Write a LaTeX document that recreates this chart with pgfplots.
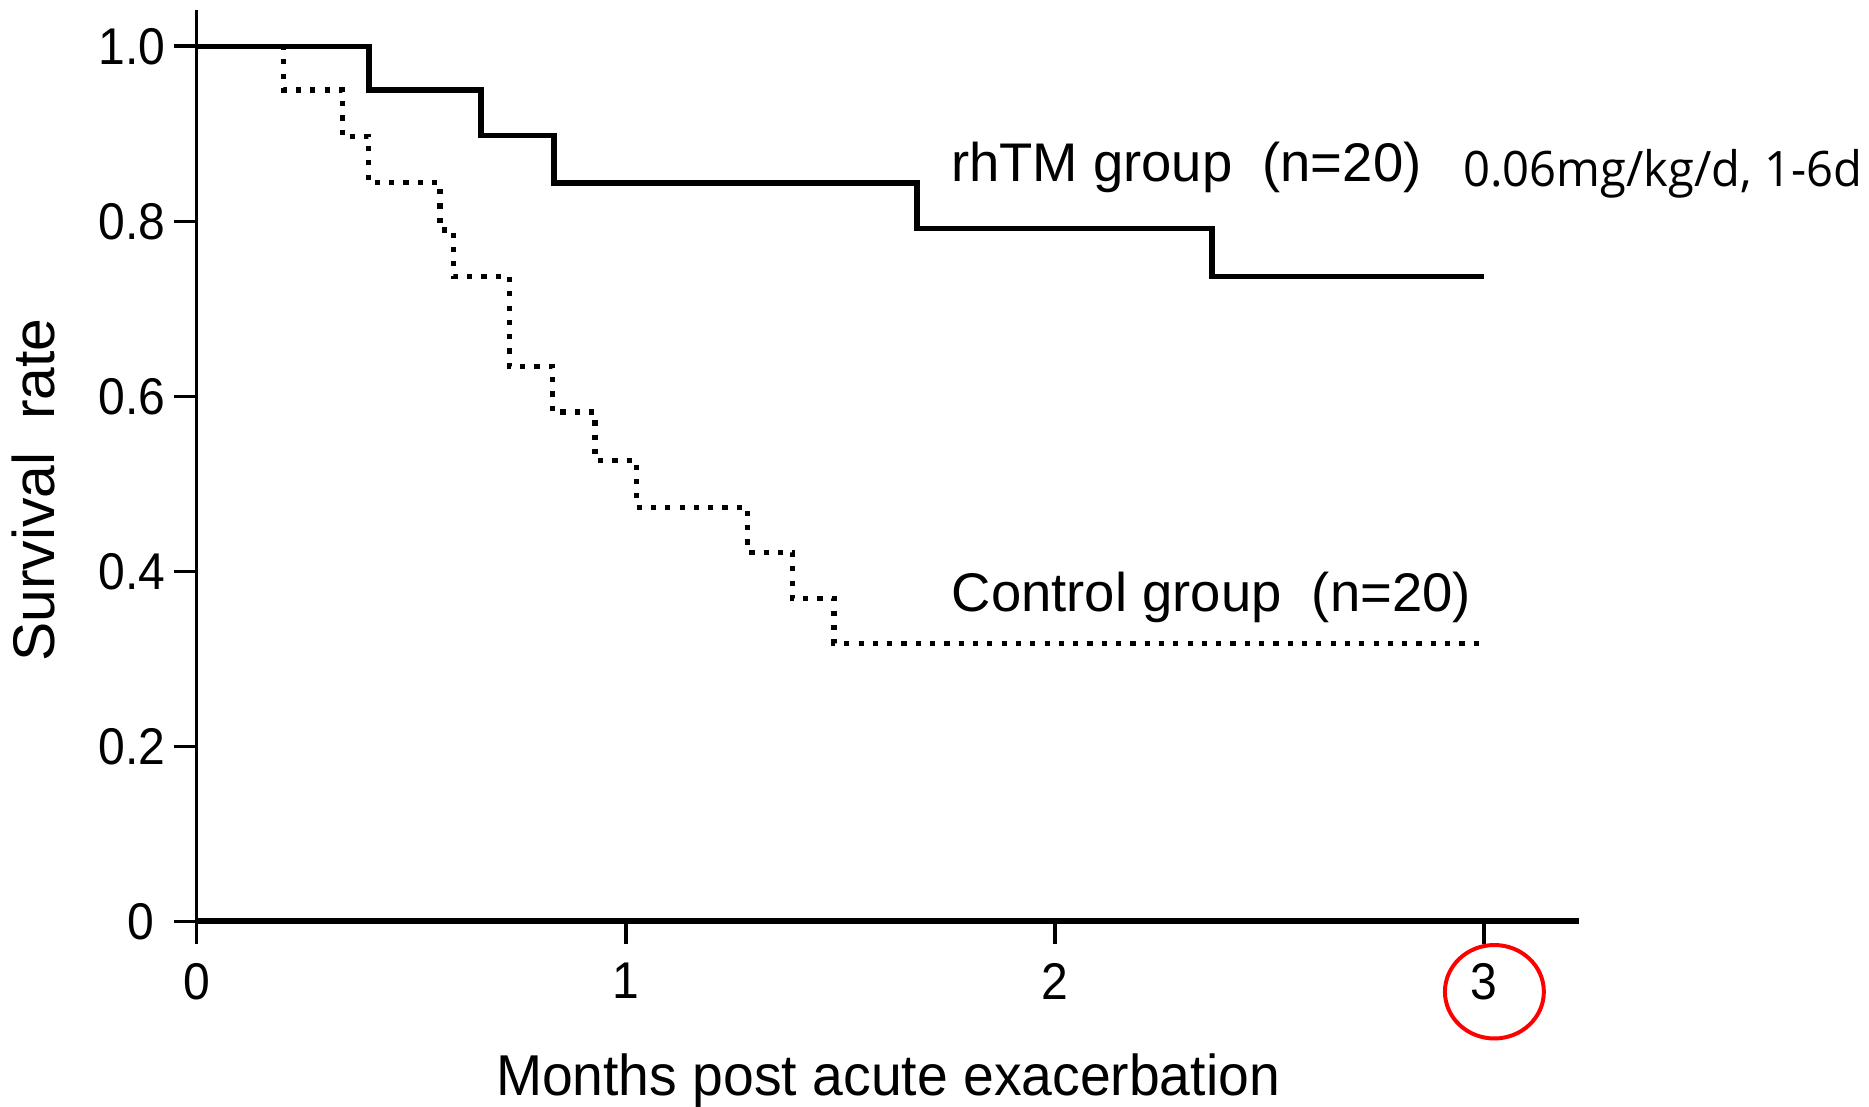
\documentclass[border=0pt]{standalone}
\usepackage{pgfplots}
\pgfplotsset{compat=1.18}
\usepackage{fontspec}
\setmainfont{Liberation Sans}
\newfontfamily\dosefont{Open Sans}
\begin{document}
\begin{tikzpicture}
\useasboundingbox (-49.5pt,-46.5pt) rectangle (420.9pt,231.9pt);
\begin{axis}[
  at={(0,0)}, anchor=south west,
  scale only axis, width=348pt, height=229.5pt,
  xmin=0, xmax=3.222, ymin=0, ymax=1.042,
  axis x line=bottom, axis y line=left,
  axis line style={-},
  x axis line style={line width=1.5pt},
  y axis line style={line width=0.9pt},
  xtick={0,1,2,3}, xticklabels={0,1,2,3},
  ytick={0,0.2,0.4,0.6,0.8,1.0}, yticklabels={0\kern3pt,0.2,0.4,0.6,0.8,1.0},
  tick align=outside, major tick length=5.8pt,
  tick style={line width=0.9pt, black},
  ticklabel style={font=\fontsize{13}{15}\selectfont, xscale=0.93},
  yticklabel style={inner sep=2.1pt},
  xticklabel style={inner sep=0pt, yshift=-4.5pt},
  clip=false,
]
\addplot[const plot, black, line width=1.4pt, line join=miter] coordinates {
 (0,1) (0.402,0.95) (0.662,0.898) (0.833,0.844) (1.678,0.792) (2.366,0.737) (3.0,0.737)};
\addplot[const plot, black, line width=1.3pt, dash pattern=on 1.3pt off 2.3pt] coordinates {
 (0,1) (0.203,0.95) (0.339,0.897) (0.401,0.844) (0.567,0.790) (0.599,0.737) (0.729,0.634)
 (0.829,0.582) (0.928,0.527) (1.025,0.473) (1.284,0.422) (1.388,0.369) (1.485,0.318) (3.0,0.318)};
\node[anchor=base west, inner sep=0pt, font=\fontsize{13.7}{16}\selectfont] at (axis cs:1.756,0.8455) {rhTM group\ \ (n=20)};
\node[anchor=base west, inner sep=0pt, font=\fontsize{13.7}{16}\selectfont] at (axis cs:1.758,0.354) {Control group\ \ (n=20)};
\node[anchor=base west, inner sep=0pt, xscale=0.965, font=\dosefont\fontsize{12.3}{15}\selectfont] at (axis cs:2.95,0.8398) {0.06mg/kg/d, 1-6d};
\node[rotate=90, anchor=base, inner sep=0pt, font=\fontsize{14.8}{17}\selectfont] at ([xshift=-35.7pt]rel axis cs:0,0.473) {Survival\ \ rate};
\node[anchor=base, inner sep=0pt, xscale=0.96, font=\fontsize{14.5}{17}\selectfont] at ([yshift=-43.7pt]rel axis cs:0.5,0) {Months post acute exacerbation};
\draw[red, line width=1pt] (axis cs:3.024,-0.0804) ellipse [x radius=12.45pt, y radius=11.76pt];
\end{axis}
\end{tikzpicture}
\end{document}
